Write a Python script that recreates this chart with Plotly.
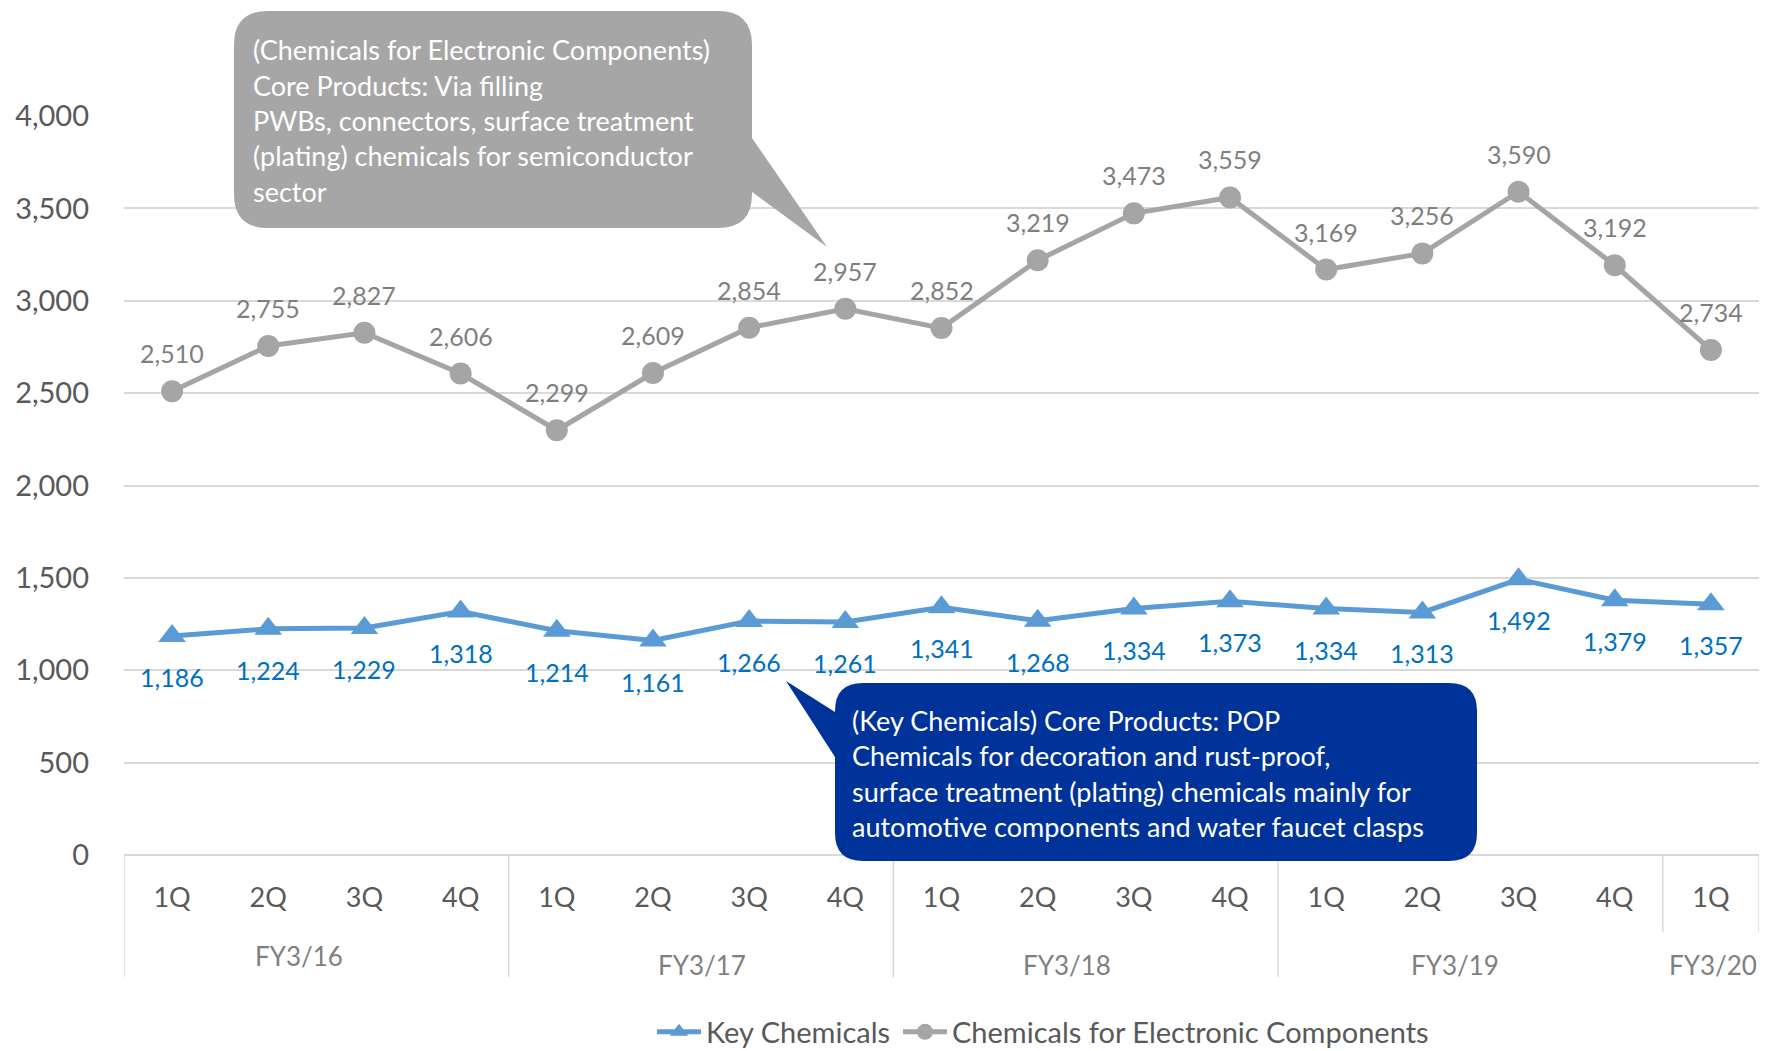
import plotly.graph_objects as go

# Quarterly sales (millions of yen) by segment
quarters = ["1Q", "2Q", "3Q", "4Q", "1Q", "2Q", "3Q", "4Q", "1Q", "2Q", "3Q", "4Q",
            "1Q", "2Q", "3Q", "4Q", "1Q"]
fiscal_years = ["FY3/16", "FY3/17", "FY3/18", "FY3/19", "FY3/20"]
key_chemicals = [1186, 1224, 1229, 1318, 1214, 1161, 1266, 1261, 1341, 1268, 1334,
                 1373, 1334, 1313, 1492, 1379, 1357]
electronic_components = [2510, 2755, 2827, 2606, 2299, 2609, 2854, 2957, 2852, 3219,
                         3473, 3559, 3169, 3256, 3590, 3192, 2734]
y_ticks = [0, 500, 1000, 1500, 2000, 2500, 3000, 3500, 4000]

ec_note = ["(Chemicals for Electronic Components)",
           "Core Products: Via filling",
           "PWBs, connectors, surface treatment",
           "(plating) chemicals for semiconductor",
           "sector"]
kc_note = ["(Key Chemicals) Core Products: POP",
           "Chemicals for decoration and rust-proof,",
           "surface treatment (plating) chemicals mainly for",
           "automotive components and water faucet clasps"]

FONT = "Lato"
W, H = 1765, 1051
L, R, T, B = 124, 1759, 116, 855          # plot area in pixels

GRAY = "#A5A5A5"
BLUE = "#5B9BD5"
GRID = "#D9D9D9"


def px(x):
    return (x - L) / (R - L)


def py(y):
    return (B - y) / (B - T)


def callout_path(x0, y0, x1, y1, r, side, p1, p2, tip):
    """Rounded rectangle with a wedge pointer, in pixel coords -> paper path."""

    def P(x, y):
        return f"{px(x):.5f},{py(y):.5f}"

    s = f"M {P(x0 + r, y0)} L {P(x1 - r, y0)} Q {P(x1, y0)} {P(x1, y0 + r)} "
    if side == "right":
        s += f"L {P(x1, p1)} L {P(*tip)} L {P(x1, p2)} "
    s += f"L {P(x1, y1 - r)} Q {P(x1, y1)} {P(x1 - r, y1)} "
    s += f"L {P(x0 + r, y1)} Q {P(x0, y1)} {P(x0, y1 - r)} "
    if side == "left":
        s += f"L {P(x0, p2)} L {P(*tip)} L {P(x0, p1)} "
    s += f"L {P(x0, y0 + r)} Q {P(x0, y0)} {P(x0 + r, y0)} Z"
    return s


x_idx = list(range(len(quarters)))

fig = go.Figure()
fig.add_trace(go.Scatter(
    x=x_idx, y=key_chemicals, name="Key Chemicals", mode="lines+markers",
    line=dict(color=BLUE, width=5),
    marker=dict(symbol="triangle-up", size=24, color=BLUE),
    cliponaxis=False, legend="legend",
))
fig.add_trace(go.Scatter(
    x=x_idx, y=electronic_components, name="Chemicals for Electronic Components",
    mode="lines+markers",
    line=dict(color=GRAY, width=5),
    marker=dict(symbol="circle", size=22, color=GRAY),
    cliponaxis=False, legend="legend2",
))

annotations = []
# value labels
for i, v in enumerate(electronic_components):
    annotations.append(dict(x=i, y=v, xref="x", yref="y", text=f"{v:,}", showarrow=False,
                            yshift=38, font=dict(family=FONT, size=25, color="#7F7F7F")))
for i, v in enumerate(key_chemicals):
    annotations.append(dict(x=i, y=v, xref="x", yref="y", text=f"{v:,}", showarrow=False,
                            yshift=-41, font=dict(family=FONT, size=25, color="#0070C0")))

# fiscal-year group labels under the quarter labels
fy_pos = [(1.32, 956), (5.51, 965), (9.30, 965), (13.34, 965), (16.02, 965)]
for name, (xc, yc) in zip(fiscal_years, fy_pos):
    annotations.append(dict(x=xc, y=py(yc), xref="x", yref="paper", text=name,
                            showarrow=False, yanchor="middle",
                            font=dict(family=FONT, size=26, color="#7F7F7F")))

# callout texts
for k, line in enumerate(ec_note):
    annotations.append(dict(x=px(251), y=py(49.5 + 35.5 * k), xref="paper", yref="paper",
                            text=line, showarrow=False, xanchor="left", yanchor="middle",
                            font=dict(family=FONT, size=27, color="white")))
for k, line in enumerate(kc_note):
    annotations.append(dict(x=px(850), y=py(720.4 + 35.3 * k), xref="paper", yref="paper",
                            text=line, showarrow=False, xanchor="left", yanchor="middle",
                            font=dict(family=FONT, size=27, color="white")))

shapes = []
# category dividers
for xb, yb in [(-0.5, 977), (3.5, 977), (7.5, 977), (11.5, 977), (15.5, 932), (16.5, 932)]:
    shapes.append(dict(type="line", xref="x", yref="paper", x0=xb, x1=xb, y0=0, y1=py(yb),
                       line=dict(color=GRID, width=1.5), layer="below"))

shapes.append(dict(type="path", xref="paper", yref="paper", layer="above",
                   path=callout_path(234, 11, 752, 228, 34, "right", 138, 192, (827, 247)),
                   fillcolor="#A6A6A6", line=dict(width=0)))
shapes.append(dict(type="path", xref="paper", yref="paper", layer="above",
                   path=callout_path(835, 683, 1477, 861, 28, "left", 712, 757, (786, 681)),
                   fillcolor="#003399", line=dict(width=0)))

legend_style = dict(orientation="h", xanchor="left", y=py(1032), yanchor="middle",
                    font=dict(family=FONT, size=29, color="#595959"),
                    itemwidth=44, bgcolor="rgba(0,0,0,0)")

fig.update_layout(
    width=W, height=H,
    margin=dict(l=L, r=W - R, t=T, b=H - B, autoexpand=False),
    paper_bgcolor="white", plot_bgcolor="white",
    font=dict(family=FONT, color="#595959"),
    showlegend=True,
    legend=dict(x=px(652), **legend_style),
    legend2=dict(x=px(898), **legend_style),
    xaxis=dict(range=[-0.5, 16.5], tickvals=x_idx, ticktext=quarters, showgrid=False,
               zeroline=False, showline=False, ticks="", ticklabelstandoff=24,
               tickfont=dict(family=FONT, size=27, color="#595959")),
    yaxis=dict(range=[0, 4000], tickvals=y_ticks, tickformat=",", showgrid=True,
               gridcolor=GRID, gridwidth=1.5, zeroline=True, zerolinecolor=GRID,
               zerolinewidth=1.5, showline=False, ticks="", ticklabelstandoff=34,
               tickfont=dict(family=FONT, size=29, color="#595959")),
    annotations=annotations,
    shapes=shapes,
)

fig.write_html("out.html")
